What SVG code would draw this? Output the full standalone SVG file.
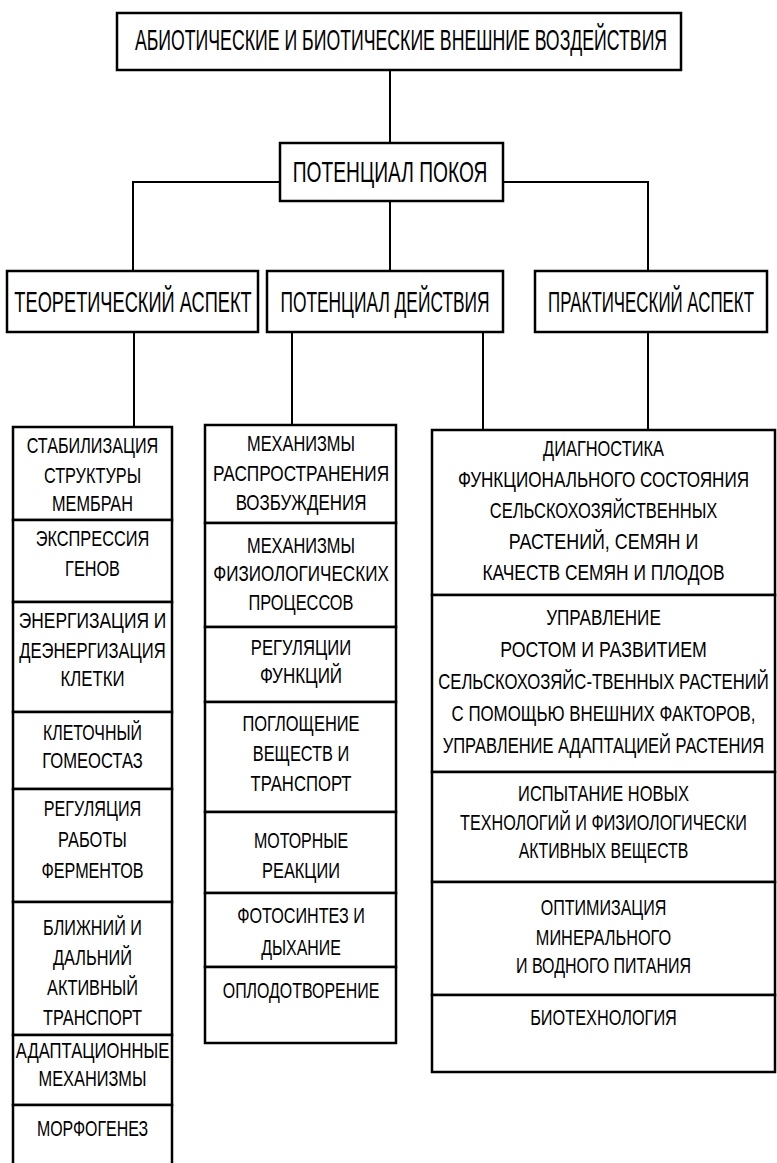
<svg xmlns="http://www.w3.org/2000/svg" width="777" height="1163" viewBox="0 0 777 1163">
<style>
.box{fill:#fff;stroke:#000;stroke-width:2.5}
.ln{stroke:#000;stroke-width:2;fill:none}
text{font-family:"Liberation Sans",Arial,sans-serif;fill:#000;text-anchor:middle}
.h{font-size:30px}
.c{font-size:22px}
</style>
<rect width="777" height="1163" fill="#fff"/>
<g id="connectors">
<path class="ln" d="M390,70V143"/>
<path class="ln" d="M280,182H133V271"/>
<path class="ln" d="M503,182H648V271"/>
<path class="ln" d="M390,201V271"/>
<path class="ln" d="M134,332V427"/>
<path class="ln" d="M292,332V425"/>
<path class="ln" d="M483,332V430"/>
<path class="ln" d="M648,332V430"/>
</g>
<g id="n-top"><rect class="box" x="117" y="13" width="564" height="57"/><text class="h" transform="translate(401 50) scale(.59 1)">АБИОТИЧЕСКИЕ И БИОТИЧЕСКИЕ ВНЕШНИЕ ВОЗДЕЙСТВИЯ</text></g>
<g id="n-rest"><rect class="box" x="280" y="143" width="223" height="58"/><text class="h" transform="translate(390 182) scale(.641 1)">ПОТЕНЦИАЛ ПОКОЯ</text></g>
<g id="n-theory"><rect class="box" x="7" y="271" width="251" height="61"/><text class="h" transform="translate(133 312) scale(.608 1)">ТЕОРЕТИЧЕСКИЙ АСПЕКТ</text></g>
<g id="n-action"><rect class="box" x="267" y="271" width="236" height="61"/><text class="h" transform="translate(385 312) scale(.579 1)">ПОТЕНЦИАЛ ДЕЙСТВИЯ</text></g>
<g id="n-practice"><rect class="box" x="535" y="271" width="232" height="61"/><text class="h" transform="translate(651 312) scale(.563 1)">ПРАКТИЧЕСКИЙ АСПЕКТ</text></g>

<g id="l1"><rect class="box" x="13" y="427" width="159" height="93"/><text class="c" transform="translate(92.5 453) scale(.736 1)">СТАБИЛИЗАЦИЯ</text><text class="c" transform="translate(92.5 483) scale(.741 1)">СТРУКТУРЫ</text><text class="c" transform="translate(92.5 511) scale(.739 1)">МЕМБРАН</text></g>
<g id="l2"><rect class="box" x="13" y="520" width="159" height="82"/><text class="c" transform="translate(92.5 546) scale(.744 1)">ЭКСПРЕССИЯ</text><text class="c" transform="translate(92.5 576) scale(.739 1)">ГЕНОВ</text></g>
<g id="l3"><rect class="box" x="13" y="602" width="159" height="110"/><text class="c" transform="translate(92.5 628) scale(.791 1)">ЭНЕРГИЗАЦИЯ И</text><text class="c" transform="translate(92.5 658) scale(.754 1)">ДЕЭНЕРГИЗАЦИЯ</text><text class="c" transform="translate(92.5 686) scale(.762 1)">КЛЕТКИ</text></g>
<g id="l4"><rect class="box" x="13" y="712" width="159" height="77"/><text class="c" transform="translate(92.5 740) scale(.724 1)">КЛЕТОЧНЫЙ</text><text class="c" transform="translate(92.5 768) scale(.754 1)">ГОМЕОСТАЗ</text></g>
<g id="l5"><rect class="box" x="13" y="789" width="159" height="113"/><text class="c" transform="translate(92.5 816) scale(.734 1)">РЕГУЛЯЦИЯ</text><text class="c" transform="translate(92.5 847) scale(.747 1)">РАБОТЫ</text><text class="c" transform="translate(92.5 878) scale(.735 1)">ФЕРМЕНТОВ</text></g>
<g id="l6"><rect class="box" x="13" y="902" width="159" height="133"/><text class="c" transform="translate(92.5 935) scale(.736 1)">БЛИЖНИЙ И</text><text class="c" transform="translate(92.5 965) scale(.744 1)">ДАЛЬНИЙ</text><text class="c" transform="translate(92.5 995) scale(.742 1)">АКТИВНЫЙ</text><text class="c" transform="translate(92.5 1025) scale(.744 1)">ТРАНСПОРТ</text></g>
<g id="l7"><rect class="box" x="13" y="1035" width="159" height="70"/><text class="c" transform="translate(92.5 1058) scale(.756 1)">АДАПТАЦИОННЫЕ</text><text class="c" transform="translate(92.5 1086) scale(.745 1)">МЕХАНИЗМЫ</text></g>
<g id="l8"><rect class="box" x="13" y="1105" width="159" height="70"/><text class="c" transform="translate(92.5 1136) scale(.725 1)">МОРФОГЕНЕЗ</text></g>

<g id="m1"><rect class="box" x="205" y="425" width="191" height="98"/><text class="c" transform="translate(301 451) scale(.745 1)">МЕХАНИЗМЫ</text><text class="c" transform="translate(301 481) scale(.783 1)">РАСПРОСТРАНЕНИЯ</text><text class="c" transform="translate(301 510) scale(.771 1)">ВОЗБУЖДЕНИЯ</text></g>
<g id="m2"><rect class="box" x="205" y="523" width="191" height="104"/><text class="c" transform="translate(301 553) scale(.745 1)">МЕХАНИЗМЫ</text><text class="c" transform="translate(301 581) scale(.776 1)">ФИЗИОЛОГИЧЕСКИХ</text><text class="c" transform="translate(301 610) scale(.745 1)">ПРОЦЕССОВ</text></g>
<g id="m3"><rect class="box" x="205" y="627" width="191" height="75"/><text class="c" transform="translate(301 655) scale(.756 1)">РЕГУЛЯЦИИ</text><text class="c" transform="translate(301 683) scale(.773 1)">ФУНКЦИЙ</text></g>
<g id="m4"><rect class="box" x="205" y="702" width="191" height="110"/><text class="c" transform="translate(301 731) scale(.747 1)">ПОГЛОЩЕНИЕ</text><text class="c" transform="translate(301 761) scale(.744 1)">ВЕЩЕСТВ И</text><text class="c" transform="translate(301 791) scale(.759 1)">ТРАНСПОРТ</text></g>
<g id="m5"><rect class="box" x="205" y="812" width="191" height="81"/><text class="c" transform="translate(301 848) scale(.727 1)">МОТОРНЫЕ</text><text class="c" transform="translate(301 878) scale(.744 1)">РЕАКЦИИ</text></g>
<g id="m6"><rect class="box" x="205" y="893" width="191" height="74"/><text class="c" transform="translate(301 923) scale(.735 1)">ФОТОСИНТЕЗ И</text><text class="c" transform="translate(301 955) scale(.725 1)">ДЫХАНИЕ</text></g>
<g id="m7"><rect class="box" x="205" y="967" width="191" height="76"/><text class="c" transform="translate(301 998) scale(.725 1)">ОПЛОДОТВОРЕНИЕ</text></g>

<g id="r1"><rect class="box" x="432" y="430" width="343" height="165"/><text class="c" transform="translate(603.5 456) scale(.746 1)">ДИАГНОСТИКА</text><text class="c" transform="translate(603.5 487) scale(.778 1)">ФУНКЦИОНАЛЬНОГО СОСТОЯНИЯ</text><text class="c" transform="translate(603.5 518) scale(.751 1)">СЕЛЬСКОХОЗЯЙСТВЕННЫХ</text><text class="c" transform="translate(603.5 549) scale(.814 1)">РАСТЕНИЙ, СЕМЯН И</text><text class="c" transform="translate(603.5 580) scale(.79 1)">КАЧЕСТВ СЕМЯН И ПЛОДОВ</text></g>
<g id="r2"><rect class="box" x="432" y="595" width="343" height="177"/><text class="c" transform="translate(603.5 625) scale(.777 1)">УПРАВЛЕНИЕ</text><text class="c" transform="translate(603.5 657) scale(.807 1)">РОСТОМ И РАЗВИТИЕМ</text><text class="c" transform="translate(603.5 689) scale(.76 1)">СЕЛЬСКОХОЗЯЙС-ТВЕННЫХ РАСТЕНИЙ</text><text class="c" transform="translate(603.5 721) scale(.766 1)">С ПОМОЩЬЮ ВНЕШНИХ ФАКТОРОВ,</text><text class="c" transform="translate(603.5 753) scale(.751 1)">УПРАВЛЕНИЕ АДАПТАЦИЕЙ РАСТЕНИЯ</text></g>
<g id="r3"><rect class="box" x="432" y="772" width="343" height="110"/><text class="c" transform="translate(603.5 801) scale(.748 1)">ИСПЫТАНИЕ НОВЫХ</text><text class="c" transform="translate(603.5 830) scale(.736 1)">ТЕХНОЛОГИЙ И ФИЗИОЛОГИЧЕСКИ</text><text class="c" transform="translate(603.5 858) scale(.721 1)">АКТИВНЫХ ВЕЩЕСТВ</text></g>
<g id="r4"><rect class="box" x="432" y="882" width="343" height="113"/><text class="c" transform="translate(603.5 915) scale(.73 1)">ОПТИМИЗАЦИЯ</text><text class="c" transform="translate(603.5 945) scale(.741 1)">МИНЕРАЛЬНОГО</text><text class="c" transform="translate(603.5 973) scale(.727 1)">И ВОДНОГО ПИТАНИЯ</text></g>
<g id="r5"><rect class="box" x="432" y="995" width="343" height="77"/><text class="c" transform="translate(603.5 1025) scale(.741 1)">БИОТЕХНОЛОГИЯ</text></g>
</svg>
